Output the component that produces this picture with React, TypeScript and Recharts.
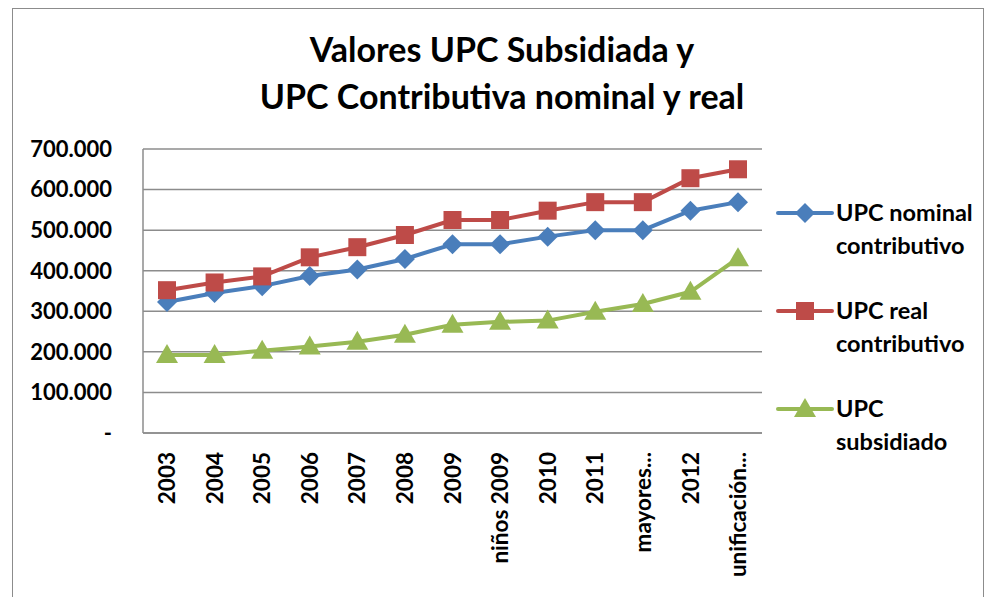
import React from "react";
import {LineChart, Line, XAxis, YAxis, CartesianGrid} from "recharts";

const categories = ["2003", "2004", "2005", "2006", "2007", "2008", "2009", "niños 2009", "2010", "2011", "mayores...", "2012", "unificación..."]
const nominalContributivo = [323000, 345000, 362000, 387000, 403000, 429000, 465000, 465000, 484000, 500000, 500000, 548000, 569000]
const realContributivo = [352000, 371000, 386000, 433000, 458000, 488000, 525000, 525000, 548000, 569000, 569000, 628000, 650000]
const subsidiado = [192000, 192000, 203000, 213000, 225000, 242000, 267000, 274000, 277000, 299000, 318000, 348000, 431000]
const yTicks = [0, 100000, 200000, 300000, 400000, 500000, 600000, 700000]

const FONT = "Lato, 'Open Sans', sans-serif"
const BLUE = "#4A7EBB"
const RED = "#BE4B48"
const GREEN = "#98B954"

const data = categories.map((c, i) => ({
    cat: c,
    nominal: nominalContributivo[i],
    real: realContributivo[i],
    subsidiado: subsidiado[i],
}))

const fmt = (v: number) => v === 0 ? "-" : `${Math.floor(v / 1000)}.${String(v % 1000).padStart(3, "0")}`

const marker = (kind: string, cx: number, cy: number, color: string, key?: string) => {
    if (kind === "diamond") {
        const r = 10
        return <path key={key} d={`M${cx},${cy - r}L${cx + r},${cy}L${cx},${cy + r}L${cx - r},${cy}Z`} fill={color}/>
    }
    if (kind === "square") {
        const r = 9
        return <rect key={key} x={cx - r} y={cy - r} width={2 * r} height={2 * r} fill={color}/>
    }
    const r = 11
    return <path key={key} d={`M${cx},${cy - r}L${cx + r},${cy + 8}L${cx - r},${cy + 8}Z`} fill={color}/>
}

const dotFor = (kind: string, color: string) => (p: any) => marker(kind, p.cx, p.cy, color, `${kind}-${p.index}`)

const XTick = (p: any) => {
    const {x, y, payload} = p
    return <text x={x} y={y} transform={`rotate(-90 ${x} ${y})`} textAnchor="end" dy="0.36em"
                 fontFamily={FONT} fontWeight={700} fontSize={22.5} fill="#000">{payload.value}</text>
}

const legendItems = [
    {kind: "diamond", color: BLUE, lines: ["UPC nominal", "contributivo"]},
    {kind: "square", color: RED, lines: ["UPC real", "contributivo"]},
    {kind: "triangle", color: GREEN, lines: ["UPC", "subsidiado"]},
]

const ChartLegend = () => <div style={{position: "absolute", left: 776, top: 196, width: 208, fontFamily: FONT, fontWeight: 700, fontSize: 23.5, lineHeight: "33px", color: "#000"}}>
    {legendItems.map((it, i) => <div key={i} style={{display: "flex", alignItems: "flex-start", marginBottom: i < 2 ? 32 : 0}}>
        <svg width={58} height={33} style={{flexShrink: 0}}>
            <line x1={2} y1={17} x2={56} y2={17} stroke={it.color} strokeWidth={4} strokeLinecap="round"/>
            {marker(it.kind, 29, 17, it.color)}
        </svg>
        <div style={{marginLeft: 2}}>{it.lines.map((l, j) => <div key={j}>{l}</div>)}</div>
    </div>)}
</div>

export default function App() {
    return <div style={{position: "absolute", left: 0, top: 0, width: 984, height: 597, background: "#fff", overflow: "hidden"}}>
        <div style={{position: "absolute", left: 12, top: 8, width: 972, height: 600, border: "1px solid #8c8c8c", boxSizing: "border-box"}}/>
        <div style={{position: "absolute", left: 0, top: 25, width: 1004, textAlign: "center", fontFamily: FONT, fontWeight: 700, fontSize: 34, lineHeight: "47px", color: "#000"}}>
            <div>Valores UPC Subsidiada y</div>
            <div>UPC Contributiva nominal y real</div>
        </div>
        <div style={{position: "absolute", left: 0, top: 0}}>
            <LineChart width={984} height={597} data={data} margin={{top: 149, right: 222, left: 43, bottom: 24}}>
                <CartesianGrid vertical={false} stroke="#8c8c8c" strokeWidth={1.5}/>
                <XAxis dataKey="cat" interval={0} height={140} tickLine={false} axisLine={{stroke: "#8c8c8c", strokeWidth: 1.5}}
                       padding={{left: 24, right: 24}} tickSize={0} tickMargin={19} tick={<XTick/>}/>
                <YAxis domain={[0, 700000]} ticks={yTicks} width={100} tickLine={false} tickSize={0} tickMargin={31}
                       axisLine={{stroke: "#8c8c8c", strokeWidth: 1.5}} tickFormatter={fmt}
                       tick={{fontFamily: FONT, fontWeight: 700, fontSize: 22, fill: "#000"}}/>
                <Line dataKey="nominal" name="UPC nominal contributivo" stroke={BLUE} strokeWidth={4} dot={dotFor("diamond", BLUE)} isAnimationActive={false}/>
                <Line dataKey="real" name="UPC real contributivo" stroke={RED} strokeWidth={4} dot={dotFor("square", RED)} isAnimationActive={false}/>
                <Line dataKey="subsidiado" name="UPC subsidiado" stroke={GREEN} strokeWidth={4} dot={dotFor("triangle", GREEN)} isAnimationActive={false}/>
            </LineChart>
        </div>
        <ChartLegend/>
    </div>
}
